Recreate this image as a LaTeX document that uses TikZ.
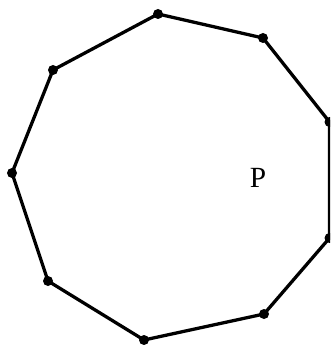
\documentclass[tikz,border=0pt]{standalone}
\usepackage{fontspec}
\setmainfont{Liberation Serif}
\begin{document}
\begin{tikzpicture}[x=0.03cm,y=-0.03cm,line cap=round,line join=round,
    edge/.style={line width=2.8pt},
    dot/.style={circle,fill,inner sep=0pt,minimum size=0.3cm}]
    \useasboundingbox (0,0) rectangle (330,345);
    \clip (0,0) rectangle (330,345);
    \coordinate (v1) at (158,14);
    \coordinate (v2) at (263,38);
    \coordinate (v3) at (329.5,122);
    \coordinate (v4) at (329.5,238);
    \coordinate (v5) at (264,314);
    \coordinate (v6) at (144,340);
    \coordinate (v7) at (48,281);
    \coordinate (v8) at (12,173);
    \coordinate (v9) at (53,70);
    \draw[edge] (v1) -- (v2) -- (v3) -- (v4) -- (v5) -- (v6) -- (v7) -- (v8) -- (v9) -- cycle;
    \foreach \v in {1,...,9}
      \node[dot] (d\v) at (v\v) {};
    \node (p) at (258,178) {\fontsize{25}{30}\selectfont P};
  \end{tikzpicture}
\end{document}
